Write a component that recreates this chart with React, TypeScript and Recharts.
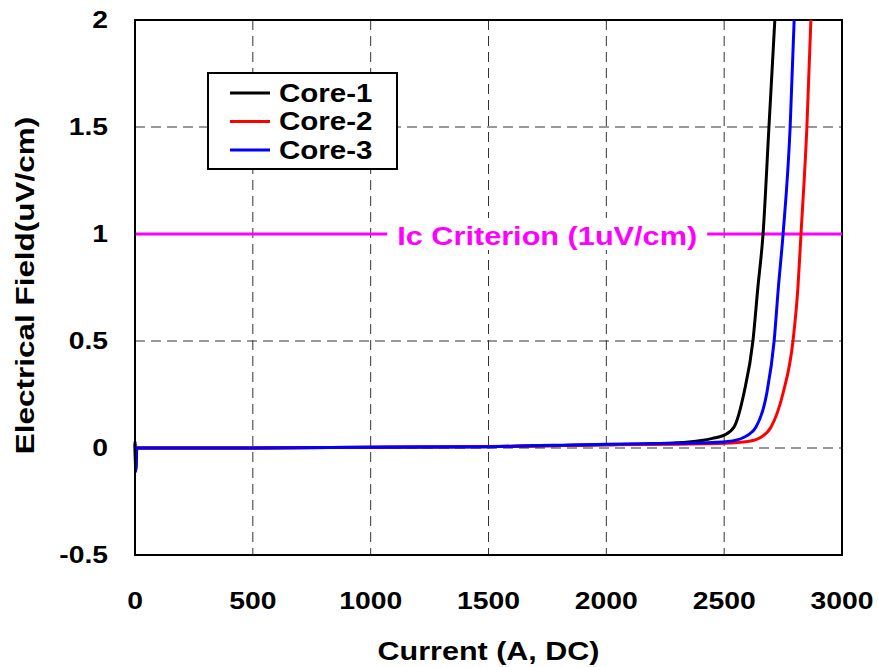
import React from "react";
import {
  LineChart,
  Line,
  XAxis,
  YAxis,
  CartesianGrid,
  ReferenceLine,
  ReferenceArea,
} from "recharts";

// values
const core1Current = [0, 4, 8, 500, 1000, 1500, 2000, 2200, 2350, 2403, 2450, 2500, 2542, 2584, 2622, 2643, 2665, 2690, 2705, 2715];
const core1Field = [0.02, -0.1, 0, 0, 0.003, 0.006, 0.015, 0.02, 0.028, 0.035, 0.045, 0.06, 0.098, 0.257, 0.5, 0.75, 1.0, 1.5, 1.8, 2.0];

const core2Current = [0, 500, 1000, 1500, 2000, 2300, 2500, 2600, 2656, 2699, 2750, 2792, 2813, 2826, 2851, 2868];
const core2Field = [0, 0, 0.004, 0.007, 0.015, 0.018, 0.022, 0.03, 0.05, 0.098, 0.257, 0.5, 0.75, 1.0, 1.5, 2.0];

const core3Current = [0, 3, 6, 500, 1000, 1500, 2000, 2300, 2450, 2516, 2584, 2635, 2681, 2712, 2730, 2750, 2780, 2797];
const core3Field = [0.03, -0.11, 0, 0, 0.003, 0.006, 0.018, 0.022, 0.026, 0.03, 0.05, 0.098, 0.257, 0.5, 0.75, 1.0, 1.5, 2.0];

const xTicks = [0, 500, 1000, 1500, 2000, 2500, 3000];
const yTicks = [-0.5, 0, 0.5, 1, 1.5, 2];
const criterion = 1;

const series = [
  { name: "Core-1", color: "#000000", current: core1Current, field: core1Field },
  { name: "Core-2", color: "#ff0000", current: core2Current, field: core2Field },
  { name: "Core-3", color: "#0000ff", current: core3Current, field: core3Field },
];

const FONT = "Arial, 'Liberation Sans', sans-serif";
const STRETCH = 1.18;

const toPoints = (xs: number[], ys: number[]) => xs.map((x, i) => ({ x, y: ys[i] }));

function XTick(props: any) {
  const { x, y, payload } = props;
  return (
    <text
      transform={`translate(${x},${y + 46}) scale(${STRETCH},1)`}
      textAnchor="middle"
      fontFamily={FONT}
      fontWeight="bold"
      fontSize={24}
      fill="#000"
    >
      {payload.value}
    </text>
  );
}

function YTick(props: any) {
  const { x, y, payload } = props;
  return (
    <text
      transform={`translate(${x},${y}) scale(${STRETCH},1)`}
      textAnchor="end"
      dominantBaseline="central"
      fontFamily={FONT}
      fontWeight="bold"
      fontSize={24}
      fill="#000"
    >
      {payload.value}
    </text>
  );
}

function CriterionLabel(props: any) {
  const { viewBox } = props;
  const cx = viewBox.x + viewBox.width * 0.583;
  const cy = viewBox.y;
  return (
    <g>
      <rect x={cx - 160} y={cy - 16} width={320} height={32} fill="#fff" />
      <text
        transform={`translate(${cx},${cy + 2}) scale(${STRETCH},1)`}
        textAnchor="middle"
        dominantBaseline="central"
        fontFamily={FONT}
        fontWeight="bold"
        fontSize={26}
        fill="#ff00ff"
      >
        Ic Criterion (1uV/cm)
      </text>
    </g>
  );
}

function LegendBox() {
  return (
    <svg width={191} height={98} style={{ display: "block" }}>
      <rect x={1} y={1} width={189} height={96} fill="#fff" stroke="#000" strokeWidth={2} />
      {series.map((s, i) => {
        const cy = 21 + i * 28.5;
        return (
          <g key={s.name}>
            <line x1={23} x2={63} y1={cy} y2={cy} stroke={s.color} strokeWidth={3} />
            <text
              transform={`translate(72,${cy}) scale(${STRETCH},1)`}
              dominantBaseline="central"
              fontFamily={FONT}
              fontWeight="bold"
              fontSize={25}
              fill="#000"
            >
              {s.name}
            </text>
          </g>
        );
      })}
    </svg>
  );
}

export default function App() {
  return (
    <div style={{ position: "relative", width: 878, height: 667 }}>
      <style>{"body{margin:0}"}</style>
      <LineChart
        width={878}
        height={667}
        margin={{ top: 20, right: 36, bottom: 0, left: 0 }}
        style={{ background: "#fff" }}
      >
        <CartesianGrid stroke="#333" strokeDasharray="10 6" strokeWidth={1} />
        <XAxis
          type="number"
          dataKey="x"
          domain={[0, 3000]}
          ticks={xTicks}
          height={112}
          tickLine={false}
          axisLine={{ stroke: "#000", strokeWidth: 2 }}
          tick={<XTick />}
          interval={0}
          label={{
            content: (p: any) => (
              <text
                transform={`translate(${p.viewBox.x + p.viewBox.width / 2},660) scale(${STRETCH + 0.04},1)`}
                textAnchor="middle"
                fontFamily={FONT}
                fontWeight="bold"
                fontSize={25}
                fill="#000"
              >
                Current (A, DC)
              </text>
            ),
          }}
        />
        <YAxis
          type="number"
          domain={[-0.5, 2]}
          ticks={yTicks}
          width={135}
          allowDataOverflow
          tickLine={false}
          tickMargin={21}
          axisLine={{ stroke: "#000", strokeWidth: 2 }}
          tick={<YTick />}
          interval={0}
          label={{
            content: (p: any) => (
              <text
                transform={`translate(34,${p.viewBox.y + p.viewBox.height / 2 - 2}) rotate(-90) scale(1.21,1)`}
                textAnchor="middle"
                fontFamily={FONT}
                fontWeight="bold"
                fontSize={26}
                fill="#000"
              >
                Electrical Field(uV/cm)
              </text>
            ),
          }}
        />
        <ReferenceArea x1={0} x2={3000} y1={-0.5} y2={2} fill="none" stroke="#000" strokeWidth={2} ifOverflow="visible" />
        <ReferenceLine y={criterion} stroke="#ff00ff" strokeWidth={3} label={<CriterionLabel />} />
        {series.map((s) => (
          <Line
            key={s.name}
            name={s.name}
            data={toPoints(s.current, s.field)}
            dataKey="y"
            type="monotone"
            stroke={s.color}
            strokeWidth={3}
            dot={false}
            isAnimationActive={false}
          />
        ))}
      </LineChart>
      <div style={{ position: "absolute", left: 207, top: 72 }}>
        <LegendBox />
      </div>
    </div>
  );
}
